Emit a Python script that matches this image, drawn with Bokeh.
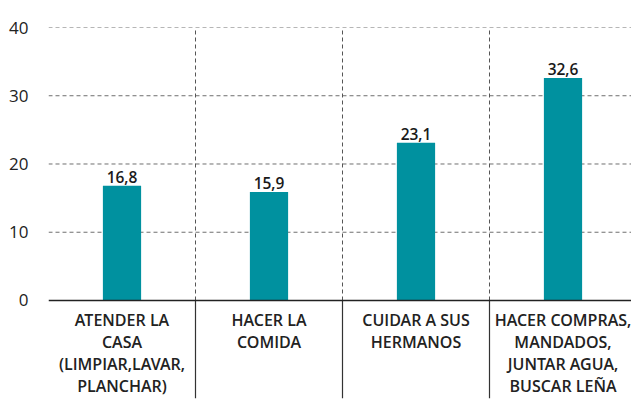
from bokeh.plotting import figure
from bokeh.models import Range1d, FixedTicker, ColumnDataSource
from bokeh.core.properties import value
from bokeh.embed import file_html
from bokeh.resources import INLINE

categories = [
    "ATENDER LA\nCASA\n(LIMPIAR,LAVAR,\nPLANCHAR)",
    "HACER LA\nCOMIDA",
    "CUIDAR A SUS\nHERMANOS",
    "HACER COMPRAS,\nMANDADOS,\nJUNTAR AGUA,\nBUSCAR LEÑA",
]
values = [16.8, 15.9, 23.1, 32.6]
value_labels = ["16,8", "15,9", "23,1", "32,6"]
y_ticks = [0, 10, 20, 30, 40]

FONT = "Open Sans"
SEMI = "'Open Sans SemiBold', 'Open Sans'"
TEAL = "#00919F"

xc = [i + 0.5 for i in range(len(categories))]
x_end = 583 / 147
y_min, y_max = -14.36, 40

p = figure(width=631, height=402, output_backend="svg", toolbar_location=None,
           x_range=Range1d(0, x_end), y_range=Range1d(y_min, y_max),
           min_border_left=48, min_border_right=0, min_border_top=27, min_border_bottom=4)
p.outline_line_color = None
p.xaxis.visible = False
p.xgrid.visible = False
p.ygrid.visible = False
p.background_fill_color = "white"
p.border_fill_color = "white"

ax = p.yaxis[0]
ax.ticker = FixedTicker(ticks=y_ticks)
ax.axis_line_color = None
ax.major_tick_line_color = None
ax.minor_tick_line_color = None
ax.major_label_standoff = 14
ax.major_label_text_font = FONT
ax.major_label_text_font_size = "17px"
ax.major_label_text_color = "#222222"

# dashed horizontal grid lines
for t in y_ticks[1:]:
    p.segment(x0=[0], y0=[t], x1=[x_end], y1=[t], line_color="#6f6f6f",
              line_width=1, line_dash="4 3")

# vertical separators
seps = [1, 2, 3]
p.segment(x0=seps, y0=[0] * 3, x1=seps, y1=[40] * 3, line_color="#555555",
          line_width=1, line_dash="4 3")
p.segment(x0=seps, y0=[y_min] * 3, x1=seps, y1=[0] * 3, line_color="#333333",
          line_width=1.2)

# bars
src = ColumnDataSource(dict(x=xc, top=values, lab=value_labels))
p.vbar(x="x", top="top", bottom=0, width=0.26, source=src, fill_color=TEAL,
       line_color=None)

# baseline
p.segment(x0=[0], y0=[0], x1=[x_end], y1=[0], line_color="#222222", line_width=1.3)

# value labels
p.text(x="x", y="top", text="lab", source=src, text_align="center",
       text_baseline="bottom", y_offset=-3, text_font=value(SEMI),
       text_font_size="15.5px", text_color="#1a1a1a")

# category labels
lx, ly, lt, lo = [], [], [], []
for x, c in zip(xc, categories):
    for i, line in enumerate(c.split("\n")):
        lx.append(x)
        ly.append(0)
        lt.append(line)
        lo.append(9 + i * 22)
lsrc = ColumnDataSource(dict(x=lx, y=ly, t=lt, o=lo))
p.text(x="x", y="y", text="t", y_offset="o", source=lsrc, text_align="center",
       text_baseline="top", text_font=value(SEMI), text_font_size="16px",
       text_color="#222222")

open("out.html", "w").write(file_html(p, INLINE))
